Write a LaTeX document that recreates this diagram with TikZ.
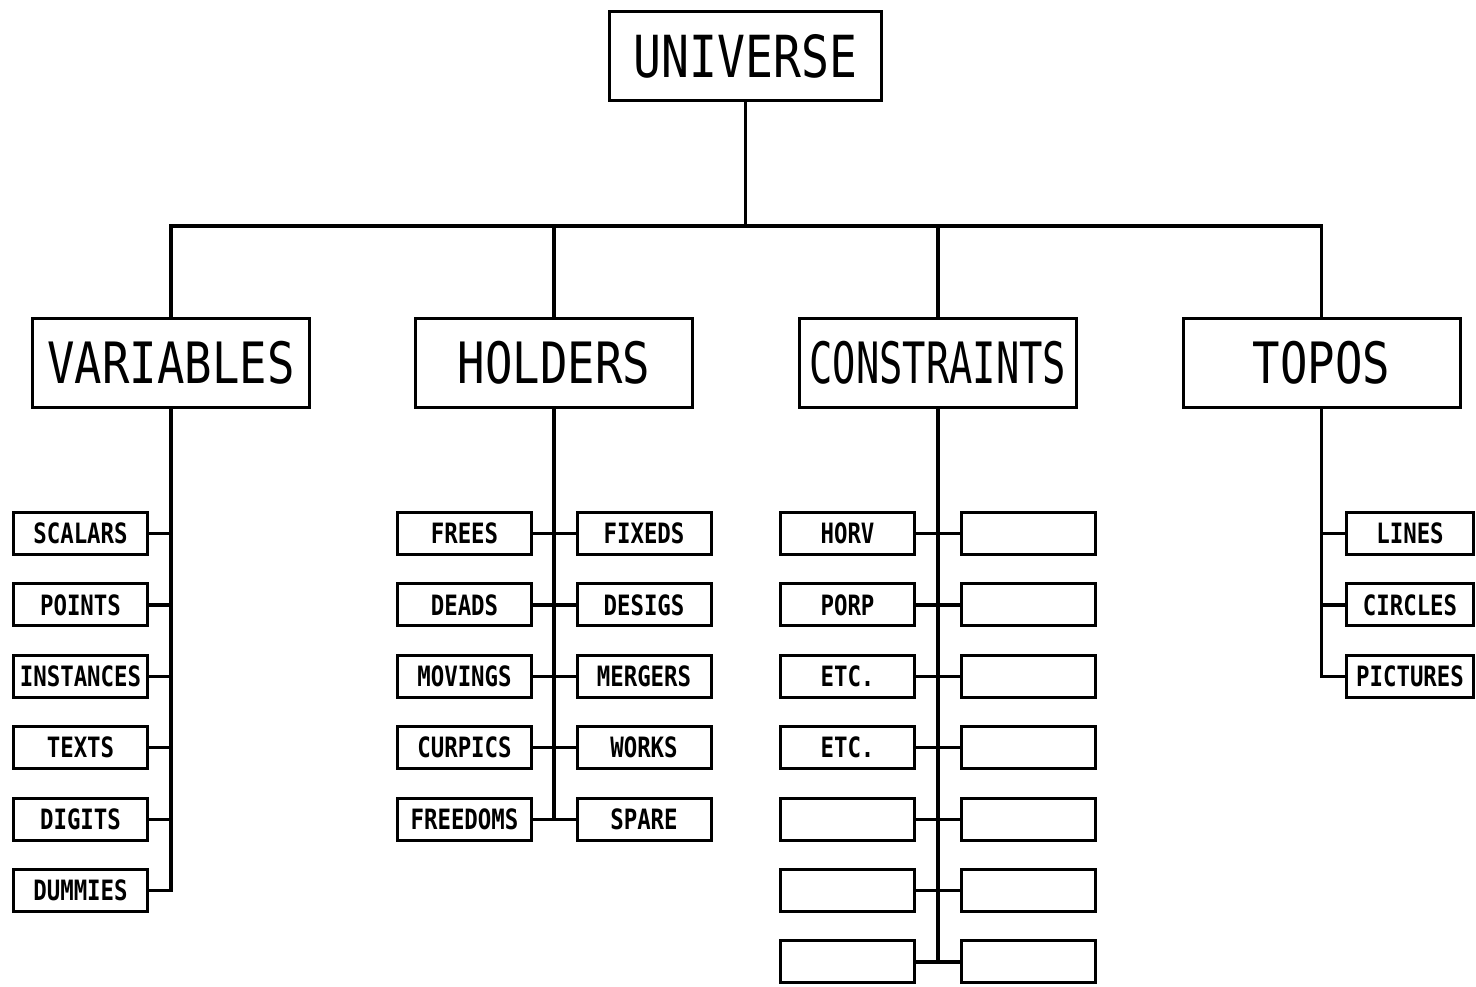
\documentclass[tikz,border=0pt]{standalone}
\usepackage{fontspec}
\newfontfamily\plotfont[FakeStretch=0.8]{DejaVu Sans Mono}
\begin{document}
\begin{tikzpicture}[x=1pt,y=-1pt,
  box/.style={draw, line width=3pt, inner sep=0pt, align=center},
  topbox/.style={box, minimum width=272pt, minimum height=89pt, font=\plotfont\fontsize{58}{60}\selectfont},
  midbox/.style={box, minimum width=277pt, minimum height=89pt, font=\plotfont\fontsize{57}{60}\selectfont},
  leaf/.style={box, minimum width=134pt, minimum height=42pt, font=\plotfont\bfseries\fontsize{28}{30}\selectfont},
  tleaf/.style={leaf, minimum width=127pt},
  wire/.style={line width=3.2pt}]
\useasboundingbox (0,0) rectangle (1476,987);
% top and second level
\node[topbox] (u) at (745.5,56) {UNIVERSE};
\node[midbox] (v) at (171,363) {VARIABLES};
\node[midbox] (h) at (554,363) {HOLDERS};
\node[midbox] (c) at (938,363) {\scalebox{0.85}[1]{CONSTRAINTS}};
\node[midbox] (t) at (1321.5,363) {TOPOS};
% VARIABLES leaves
\foreach \i/\y/\txt in {1/533.5/SCALARS,2/604.9/POINTS,3/676.3/INSTANCES,4/747.7/TEXTS,5/819.1/DIGITS,6/890.5/DUMMIES}
  \node[leaf] (v\i) at (80.5,\y) {\txt};
% HOLDERS leaves
\foreach \i/\y/\txt in {1/533.5/FREES,2/604.9/DEADS,3/676.3/MOVINGS,4/747.7/CURPICS,5/819.1/FREEDOMS}
  \node[leaf] (hl\i) at (464.5,\y) {\txt};
\foreach \i/\y/\txt in {1/533.5/FIXEDS,2/604.9/DESIGS,3/676.3/MERGERS,4/747.7/WORKS,5/819.1/SPARE}
  \node[leaf] (hr\i) at (644,\y) {\txt};
% CONSTRAINTS leaves
\foreach \i/\y/\txt in {1/533.5/HORV,2/604.9/PORP,3/676.3/ETC.,4/747.7/ETC.,5/819.1/,6/890.5/,7/961.9/}
  \node[leaf] (cl\i) at (847.5,\y) {\txt};
\foreach \i/\y in {1/533.5,2/604.9,3/676.3,4/747.7,5/819.1,6/890.5,7/961.9}
  \node[leaf] (cr\i) at (1028.5,\y) {};
% TOPOS leaves
\foreach \i/\y/\txt in {1/533.5/LINES,2/604.9/CIRCLES,3/676.3/PICTURES}
  \node[tleaf] (t\i) at (1410,\y) {\txt};
% connectors
\coordinate (bus) at (745.5,226);
\draw[wire] (u.south) -- (u.south |- bus);
\draw[wire] (v.north) -- (v.north |- bus) -- (t.north |- bus) -- (t.north);
\foreach \n in {h,c} \draw[wire] (\n.north) -- (\n.north |- bus);
\draw[wire] (v.south) |- (v6.east);
\foreach \i in {1,...,5} \draw[wire] (v\i.east) -- (v\i.east -| v.south);
\draw[wire] (h.south) -- (h.south |- hl5.east);
\foreach \i in {1,...,5} \draw[wire] (hl\i.east) -- (hr\i.west);
\draw[wire] (c.south) -- (c.south |- cl7.east);
\foreach \i in {1,...,7} \draw[wire] (cl\i.east) -- (cr\i.west);
\draw[wire] (t.south) |- (t3.west);
\foreach \i in {1,2} \draw[wire] (t\i.west) -- (t\i.west -| t.south);
\end{tikzpicture}
\end{document}
